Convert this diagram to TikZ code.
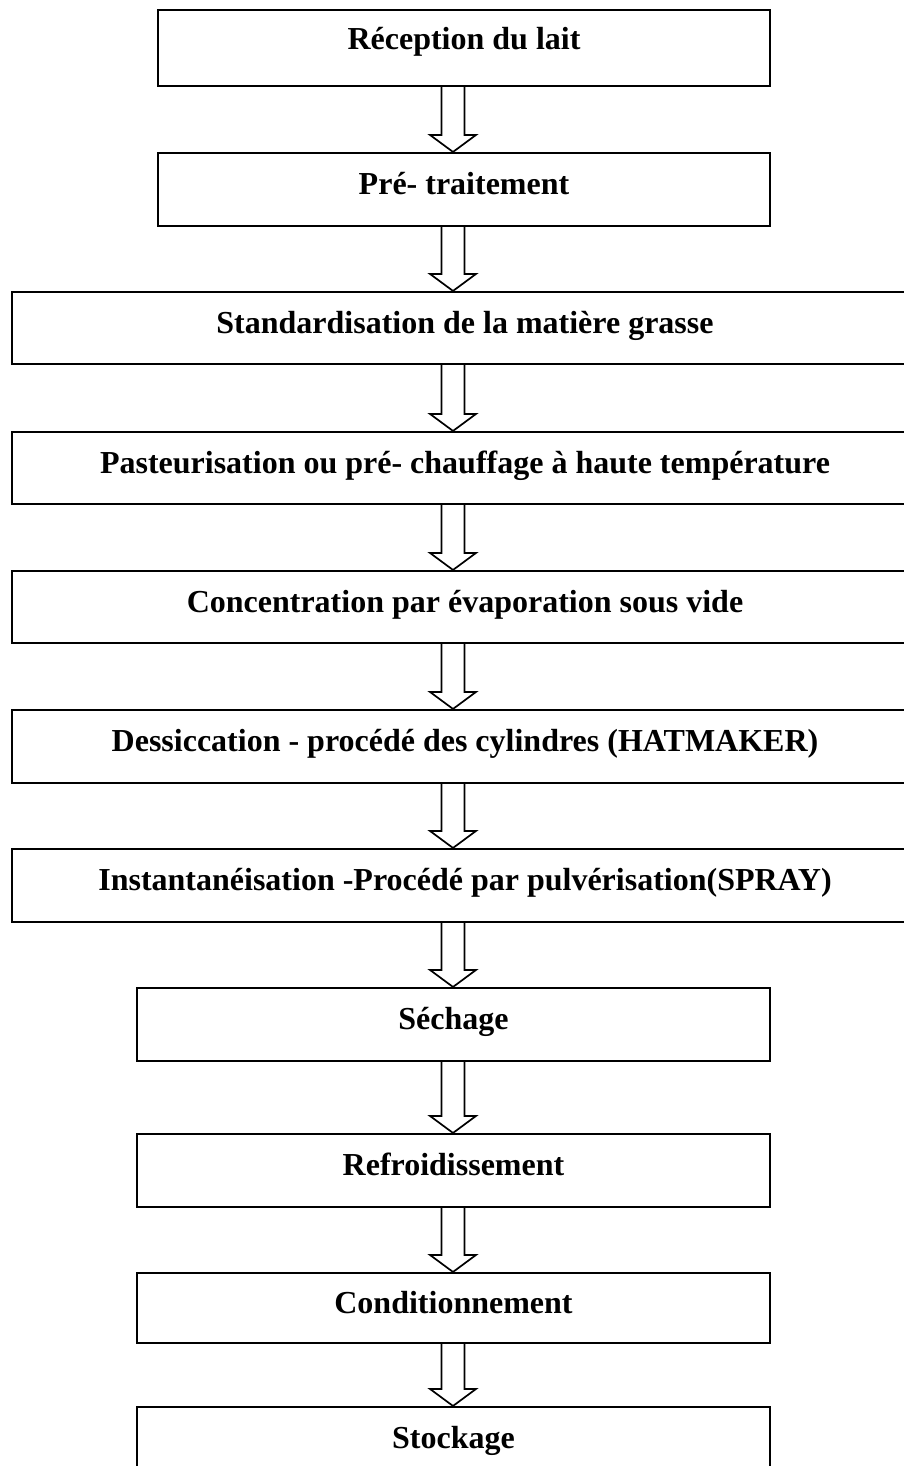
\documentclass[tikz,border=0pt]{standalone}
\usepackage{fontspec}
\setmainfont{Liberation Serif}
\usetikzlibrary{calc}
\tikzset{
  stepbox/.style={draw, line width=2.1pt, rectangle, inner sep=0pt,
    font=\fontsize{32}{38}\selectfont\bfseries, text height=14pt, text depth=4pt},
  narrowbox/.style={stepbox, minimum width=612pt},
  widebox/.style={stepbox, minimum width=906pt},
  midbox/.style={stepbox, minimum width=633pt},
  flowarrow/.style={draw, line width=1.7pt, line join=miter}
}
\newcommand\blockarrow[2]{%
  \draw[flowarrow] ($(ax |- #1.south)+(-11.5,0)$) -- ($(ax |- #2.north)+(-11.5,-17)$)
    -- ($(ax |- #2.north)+(-23,-17)$) -- (ax |- #2.north) -- ($(ax |- #2.north)+(23,-17)$)
    -- ($(ax |- #2.north)+(11.5,-17)$) -- ($(ax |- #1.south)+(11.5,0)$);}
\begin{document}
\begin{tikzpicture}[x=1pt,y=-1pt]
\useasboundingbox (0,0) rectangle (904,1466);
\clip (0,0) rectangle (904,1466);
\coordinate (ax) at (453,0);
\node[narrowbox, minimum height=76pt, text depth=10pt] (b1) at (464,48) {Réception du lait};
\node[narrowbox, minimum height=73pt] (b2) at (464,189.5) {Pré- traitement};
\node[widebox, minimum height=72pt] (b3) at (465,328) {Standardisation de la matière grasse};
\node[widebox, minimum height=72pt] (b4) at (465,468) {Pasteurisation ou pré- chauffage à haute température};
\node[widebox, minimum height=72pt] (b5) at (465,607) {Concentration par évaporation sous vide};
\node[widebox, minimum height=73pt] (b6) at (465,746.5) {Dessiccation - procédé des cylindres (HATMAKER)};
\node[widebox, minimum height=73pt] (b7) at (465,885.5) {Instantanéisation -Procédé par pulvérisation(SPRAY)};
\node[midbox, minimum height=73pt] (b8) at (453.5,1024.5) {Séchage};
\node[midbox, minimum height=73pt] (b9) at (453.5,1170.5) {Refroidissement};
\node[midbox, minimum height=70pt] (b10) at (453.5,1308) {Conditionnement};
\node[midbox, minimum height=73pt] (b11) at (453.5,1443.5) {Stockage};
\blockarrow{b1}{b2}
\blockarrow{b2}{b3}
\blockarrow{b3}{b4}
\blockarrow{b4}{b5}
\blockarrow{b5}{b6}
\blockarrow{b6}{b7}
\blockarrow{b7}{b8}
\blockarrow{b8}{b9}
\blockarrow{b9}{b10}
\blockarrow{b10}{b11}
\end{tikzpicture}
\end{document}
